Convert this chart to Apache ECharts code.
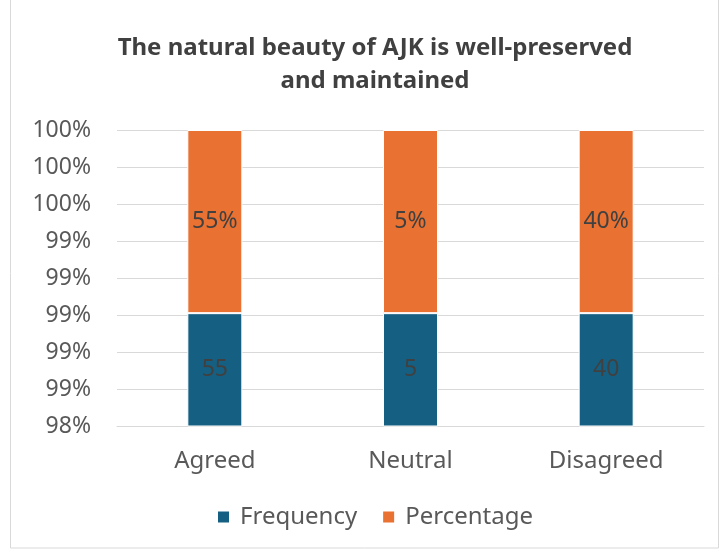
<!DOCTYPE html>
<html>
<head>
<meta charset="utf-8">
<script src="https://cdn.jsdelivr.net/npm/echarts@6/dist/echarts.min.js"></script>
<style>
  html, body { margin: 0; padding: 0; background: #fff; }
  #chart { width: 722px; height: 550px; }
</style>
</head>
<body>
<div id="chart"></div>
<script>
const categories = ["Agreed", "Neutral", "Disagreed"];
const frequency = [55, 5, 40];
const percentage = [0.55, 0.05, 0.40];

// Excel 100% stacked: each segment is its share of the column total
const totals = frequency.map((f, i) => f + percentage[i]);
const freqShare = frequency.map((f, i) => f / totals[i]);
const pctShare = percentage.map((p, i) => p / totals[i]);

const textColor = "#595959";
const font = "Noto Sans";
const fs = 23;

const chart = echarts.init(document.getElementById("chart"));
chart.setOption({
  animation: false,
  textStyle: { fontFamily: font },
  graphic: [{
    type: "rect",
    shape: { x: 10.5, y: -1, width: 708, height: 549 },
    style: { fill: "none", stroke: "#d9d9d9", lineWidth: 1 }
  }],
  title: {
    text: "The natural beauty of AJK is well-preserved\nand maintained",
    left: 370,
    textAlign: "center",
    top: 27,
    textStyle: { fontSize: 24, fontWeight: "bold", color: "#404040", lineHeight: 33, fontFamily: font }
  },
  legend: {
    bottom: 16,
    left: 211,
    itemWidth: 13,
    itemHeight: 13,
    itemGap: 24,
    icon: "rect",
    textStyle: { fontSize: 24, color: textColor, fontFamily: font, padding: [0, 0, 0, 5] }
  },
  grid: { left: 117, right: 18, top: 130, bottom: 124 },
  xAxis: {
    type: "category",
    data: categories,
    axisLine: { lineStyle: { color: "#d9d9d9" } },
    axisTick: { show: false },
    axisLabel: { fontSize: 24, color: textColor, margin: 23 }
  },
  yAxis: {
    type: "value",
    min: 0.984,
    max: 1,
    interval: 0.002,
    axisLine: { show: false },
    axisTick: { show: false },
    splitLine: { lineStyle: { color: "#d9d9d9", width: 1 } },
    axisLabel: {
      fontSize: fs, color: textColor, margin: 26,
      formatter: v => Math.round(v * 100) + "%"
    }
  },
  series: [
    {
      name: "Frequency",
      type: "bar",
      stack: "all",
      barWidth: 55,
      data: freqShare,
      itemStyle: { color: "#156082", borderColor: "#fff", borderWidth: 1 },
      label: {
        show: true, position: "inside", fontSize: fs, color: "#404040",
        formatter: p => frequency[p.dataIndex]
      }
    },
    {
      name: "Percentage",
      type: "bar",
      stack: "all",
      barWidth: 55,
      data: pctShare,
      itemStyle: { color: "#E97132", borderColor: "#fff", borderWidth: 1 },
      label: {
        show: true, position: "inside", fontSize: fs, color: "#404040",
        formatter: p => Math.round(percentage[p.dataIndex] * 100) + "%"
      }
    }
  ]
});
</script>
</body>
</html>
